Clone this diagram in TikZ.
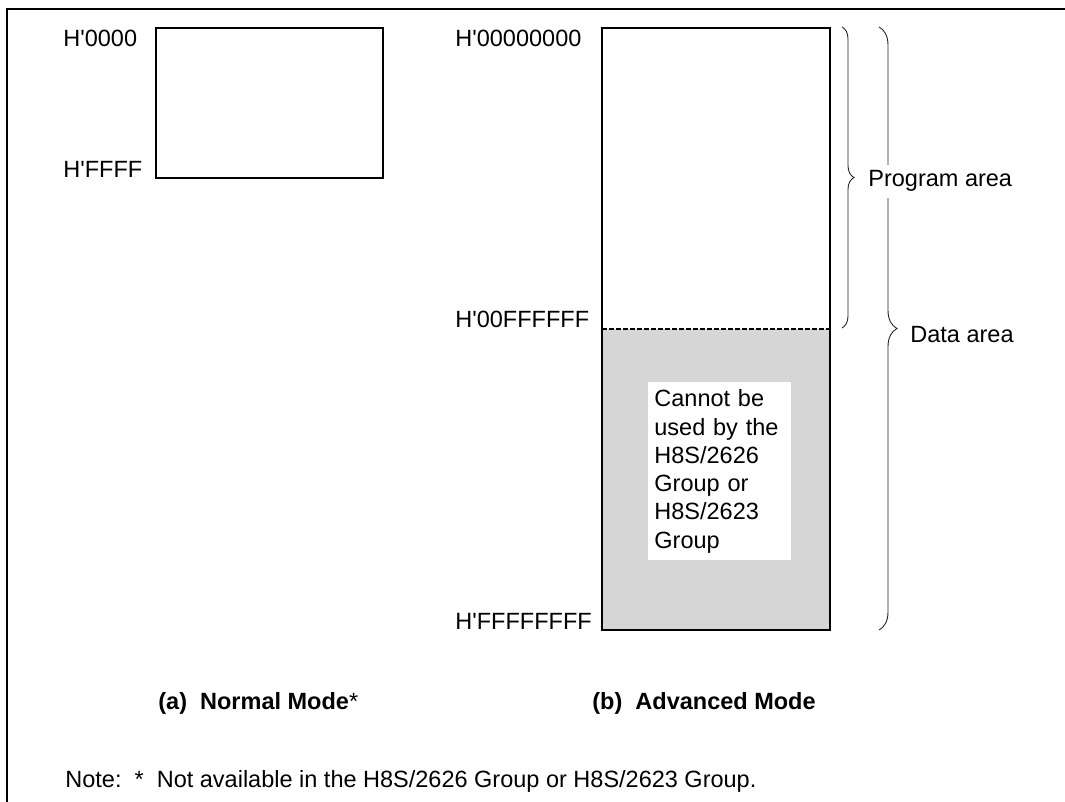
\documentclass[tikz,border=0pt]{standalone}
\usepackage{fontspec}
\setmainfont{Liberation Sans}
\usetikzlibrary{decorations.pathreplacing}
\definecolor{areagray}{RGB}{214,214,214}
\newcommand{\hx}{H\textquotesingle}
\newcommand{\memfont}{\fontsize{11.75}{14.15}\selectfont}
\tikzset{
  addr/.style={anchor=base west,inner sep=0pt},
  membox/.style={line width=0.75pt},
  areabrace/.style={decorate,decoration={brace,amplitude=#1},line width=0.45pt,black!85},
  modecap/.style={anchor=base west,inner sep=0pt,font=\memfont\bfseries}
}

\begin{document}
\begin{tikzpicture}[x=0.5pt,y=-0.5pt,font=\memfont]
  \useasboundingbox (0,0) rectangle (1065,802);
  \coordinate (F) at (7,9);
  \coordinate (N1) at (156,28);
  \coordinate (N2) at (383,178);
  \coordinate (A1) at (602,28);
  \coordinate (A2) at (830,630);
  \coordinate (M1) at (602,329);
  \coordinate (M2) at (830,329);
  \coordinate (P1) at (842,27);
  \coordinate (P2) at (842,328);
  \coordinate (D1) at (879,27);
  \coordinate (D2) at (879,630);
  \draw[line width=1.1pt] (1065,9) -- (F) -- (7,802);
  \fill[areagray] (M1) rectangle (A2);
  \draw[line width=0.6pt,dash pattern=on 2.5pt off 1pt] (M1) -- (M2);
  \draw[membox] (N1) rectangle (N2);
  \draw[membox] (A1) rectangle (A2);
  \node[fill=white,inner xsep=3pt,inner ysep=0pt,text width=65.5pt,align=left,
    minimum height=89pt,anchor=north west] (ng) at (648,382)
    {Cannot be\\used by the\\H8S/2626\\Group or\\H8S/2623\\Group};
  \node[addr] (n0) at (63,47) {\hx0000};
  \node[addr] (n1) at (63,178) {\hx FFFF};
  \node[addr] (a0) at (455,47) {\hx00000000};
  \node[addr] (a1) at (455,327) {\hx00FFFFFF};
  \node[addr] (a2) at (455,629) {\hx FFFFFFFF};
  \draw[areabrace=6pt] (P1) -- (P2);
  \draw[areabrace=9pt] (D1) -- (D2);
  \node[addr,fill=white,inner sep=3pt] (prog) at (862,187) {Program area};
  \node[addr] (data) at (910,342) {Data area};
  \node[modecap] (capa) at (158,709) {(a)\ \ Normal Mode{\mdseries *}};
  \node[modecap] (capb) at (592,709) {(b)\ \ Advanced Mode};
  \node[addr] (note) at (65,787) {Note:\ \ *\ \ Not available in the H8S/2626 Group or H8S/2623 Group.};
\end{tikzpicture}
\end{document}
